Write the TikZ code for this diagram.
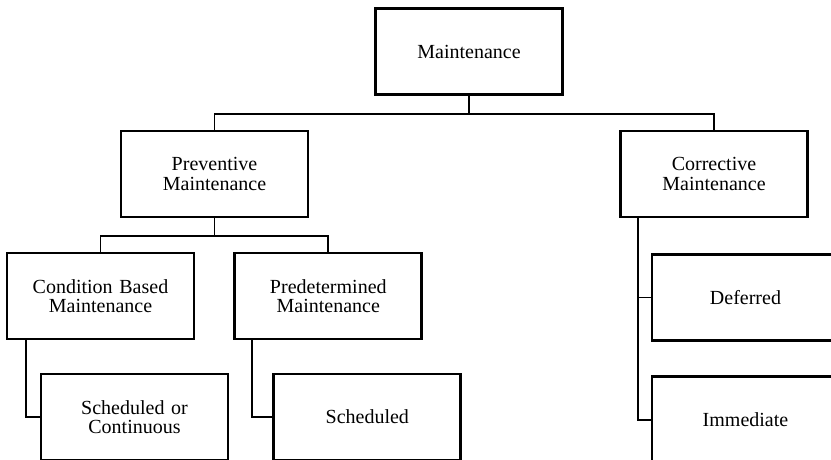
\documentclass[tikz,border=0pt]{standalone}
\usepackage{fontspec}
\setmainfont{Liberation Serif}
\usetikzlibrary{positioning}
\tikzstyle{unit} = [rectangle, minimum width=187pt, minimum height=86pt, text centered, text width=180pt, draw=black, line width=2.8pt, font=\fontsize{20}{19.5}\selectfont]
\tikzstyle{conn} = [line width=1.9pt]

\begin{document}
\begin{tikzpicture}[x=1pt, y=1pt, node distance=38pt]
\clip (0,0) rectangle (831,-460);
\fill [white] (0,0) rectangle (831,-460);

\node (top) [unit] at (469,-51.5) {Maintenance};

\node (prev) [unit] at (214.5,-174) {Preventive\\Maintenance};
\node (corr) [unit] at (714,-174) {Corrective\\Maintenance};

\node (cond) [unit] at (100.5,-296) {Condition Based\\Maintenance};
\node (pred) [unit, right=of cond] {Predetermined\\Maintenance};

\node (schcont) [unit] at (134.5,-417) {Scheduled or\\Continuous};
\node (sched) [unit, right=43pt of schcont] {Scheduled};

\node (defer) [unit] at (745.5,-297.5) {Deferred};
\node (immed) [unit, below=33.5pt of defer] {Immediate};

\coordinate (bus1) at ([yshift=-18pt]top.south);
\coordinate (bus2) at ([yshift=-18pt]prev.south);

\draw [conn] (top.south) -- (bus1);
\draw [conn] (prev.north) |- (bus1) -| (corr.north);

\draw [conn] (prev.south) -- (bus2);
\draw [conn] (cond.north) |- (bus2) -| (pred.north);

\draw [conn] ([xshift=20pt]cond.south west) |- (schcont.west);
\draw [conn] ([xshift=19pt]pred.south west) |- (sched.west);

\draw [conn] ([xshift=19pt]corr.south west) |- (defer.west);
\draw [conn] ([xshift=19pt]corr.south west) |- (immed.west);
\end{tikzpicture}
\end{document}
